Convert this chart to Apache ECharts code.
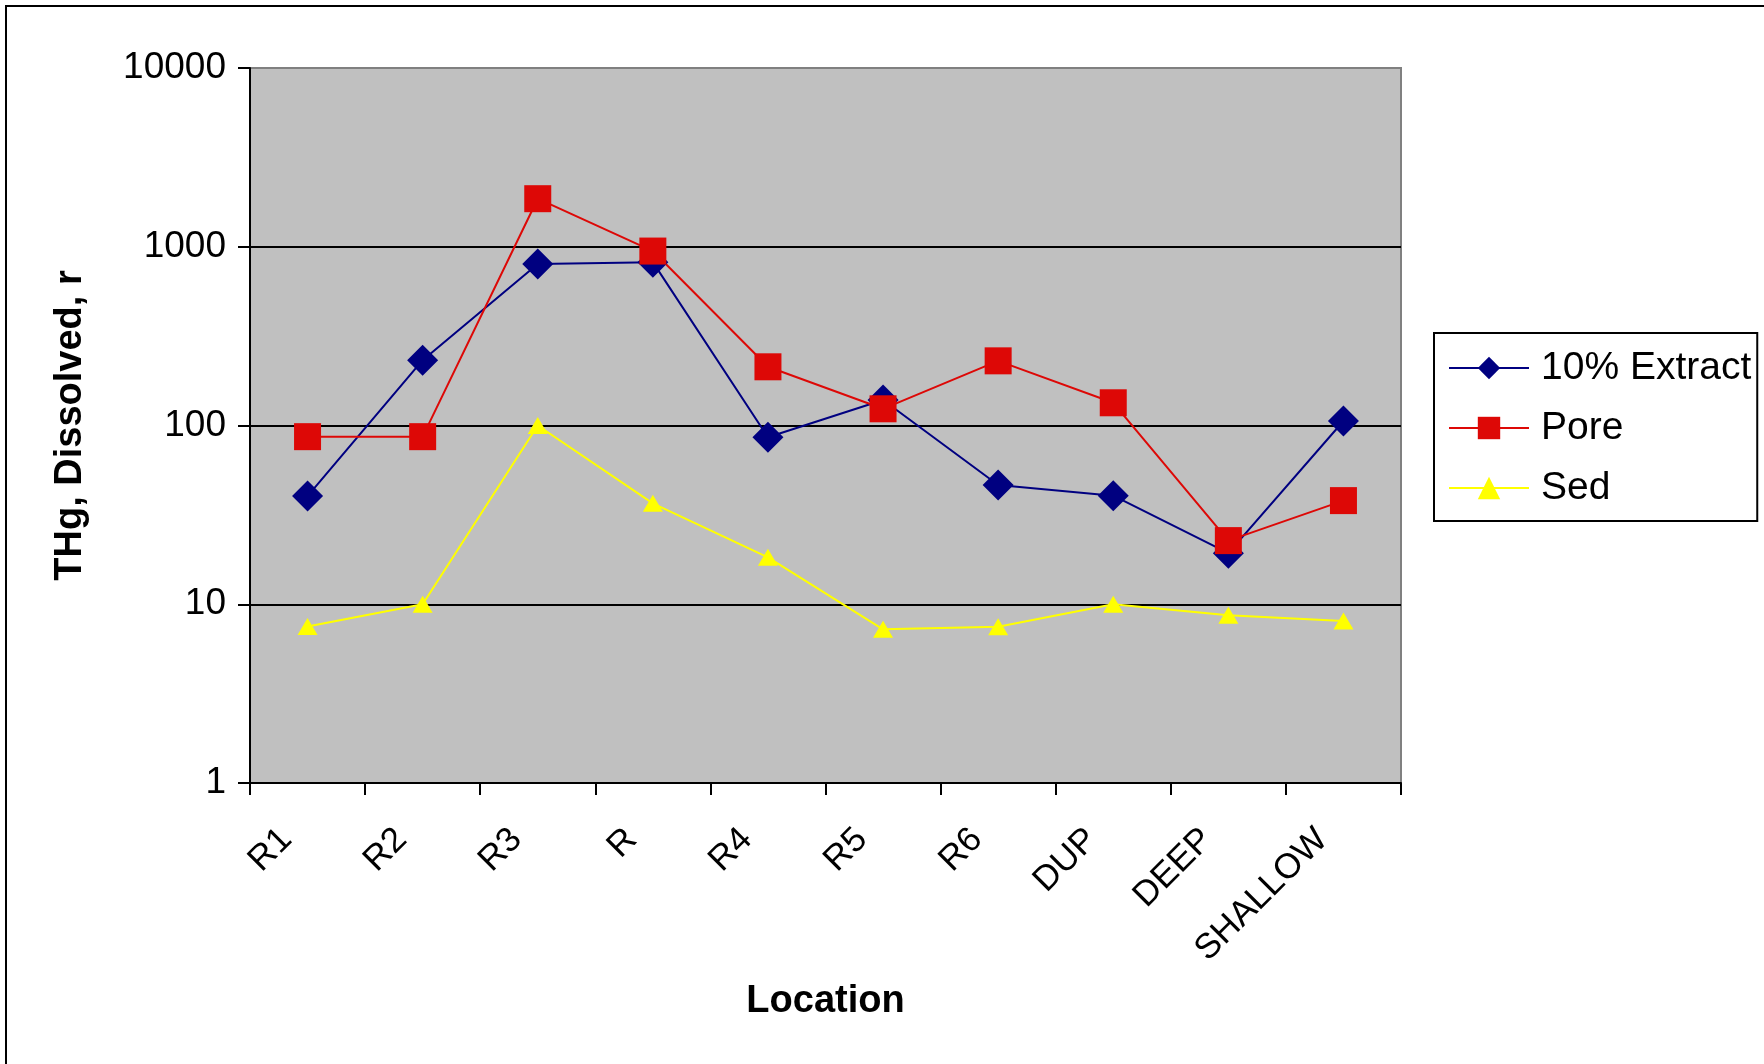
<!DOCTYPE html>
<html><head><meta charset="utf-8">
<script src="https://cdn.jsdelivr.net/npm/echarts@6/dist/echarts.min.js"></script>
<style>html,body{margin:0;padding:0;background:#fff}#c{width:1764px;height:1064px}</style>
</head><body><div id="c"></div>
<script>
const categories = ['R1','R2','R3','R','R4','R5','R6','DUP','DEEP','SHALLOW'];
const seriesNames = ['10% Extract','Pore','Sed'];
const extract10 = [40.3, 232, 800, 820, 86, 139, 46.5, 40.5, 19.3, 106];
const pore = [86.6, 86.6, 1857, 946, 213, 124, 230, 134, 22.7, 38];
const sed = [7.5, 10, 100, 36.7, 18.3, 7.24, 7.49, 10, 8.67, 8.06];
const yMin = 1, yMax = 10000;

const FONT = '"Liberation Sans", Arial, sans-serif';
const chart = echarts.init(document.getElementById('c'), null, {renderer:'canvas'});
chart.setOption({
  backgroundColor:'#fff',
  animation:false,
  textStyle:{fontFamily:FONT},
  graphic:[{type:'rect', shape:{x:6,y:6,width:1800,height:1100}, style:{fill:'none',stroke:'#000',lineWidth:2}, z:-10}],
  grid:{left:250,right:363,top:68,bottom:281,show:true,backgroundColor:'#C0C0C0',borderColor:'#808080',borderWidth:2},
  legend:{
    data:seriesNames, orient:'vertical', left:1434, top:333,
    padding:[14,6,12,14], itemWidth:80, itemHeight:28, itemGap:18,
    borderColor:'#000', borderWidth:2,
    textStyle:{fontSize:39,color:'#000',fontFamily:FONT,padding:[0,0,0,7],lineHeight:42}
  },
  xAxis:{
    type:'category', data:categories, boundaryGap:true,
    axisLine:{show:true,lineStyle:{color:'#000',width:2}},
    axisTick:{show:true,length:12,lineStyle:{color:'#000',width:2}},
    axisLabel:{rotate:45,fontSize:35,color:'#000',margin:30,padding:[0,30,0,0],fontFamily:FONT},
    splitLine:{show:false},
    name:'Location', nameLocation:'middle', nameGap:200,
    nameTextStyle:{fontSize:38,fontWeight:'bold',color:'#000',fontFamily:FONT}
  },
  yAxis:{
    type:'log', logBase:10, min:yMin, max:yMax,
    axisLine:{show:true,lineStyle:{color:'#000',width:2}},
    axisTick:{show:true,length:12,lineStyle:{color:'#000',width:2}},
    axisLabel:{fontSize:37,color:'#000',margin:24,fontFamily:FONT,formatter:v=>String(v)},
    splitLine:{show:true,lineStyle:{color:['#000','#000','#000','#000','#808080'],width:2}},
    minorTick:{show:false},
    name:'THg, Dissolved, r', nameLocation:'middle', nameGap:160,
    nameTextStyle:{fontSize:38,fontWeight:'bold',color:'#000',fontFamily:FONT}
  },
  series:[
    {name:seriesNames[0],type:'line',data:extract10,symbol:'diamond',symbolSize:31,
     itemStyle:{color:'#000080'},lineStyle:{color:'#000080',width:2}},
    {name:seriesNames[1],type:'line',data:pore,symbol:'rect',symbolSize:27,
     itemStyle:{color:'#DD0806'},lineStyle:{color:'#DD0806',width:2}},
    {name:seriesNames[2],type:'line',data:sed,symbol:'triangle',symbolSize:[20,17],
     itemStyle:{color:'#FFFF00'},lineStyle:{color:'#FFFF00',width:2}}
  ]
});
</script></body></html>
